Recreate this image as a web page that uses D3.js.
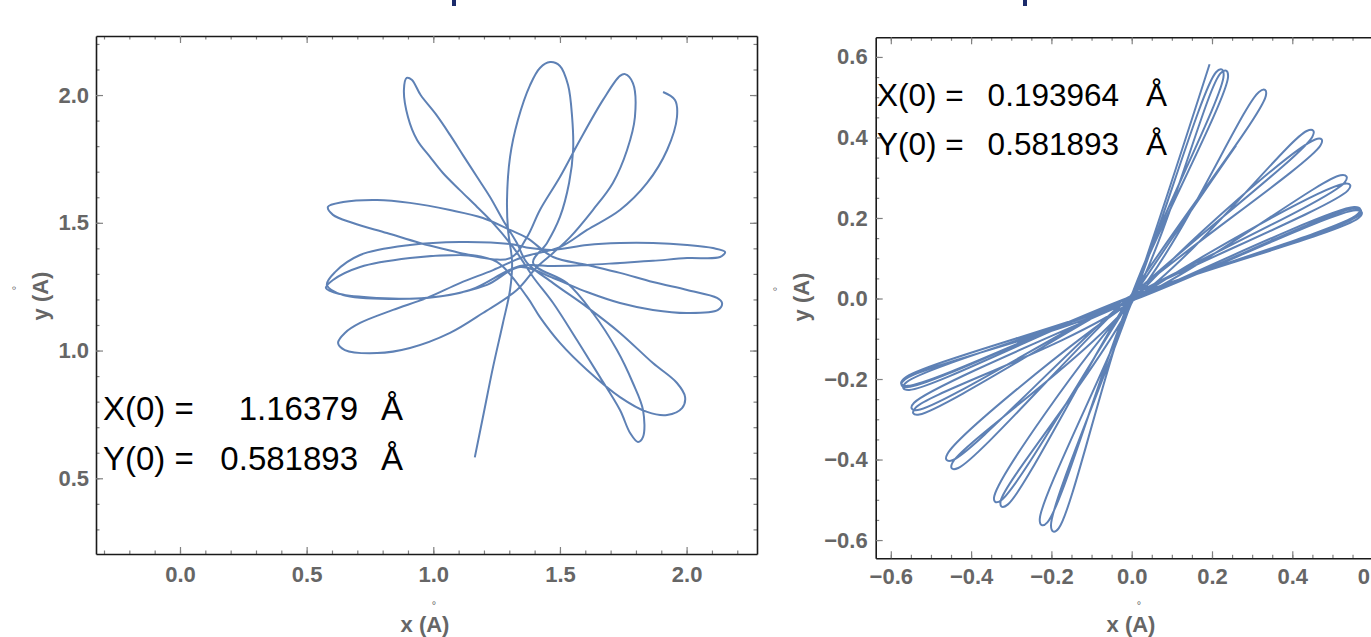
<!DOCTYPE html>
<html>
<head>
<meta charset="utf-8">
<script src="https://cdn.jsdelivr.net/npm/d3@7"></script>
<style>
  body { margin: 0; background: #fff; }
  svg { display: block; font-family: "Liberation Sans", Arial, sans-serif; }
</style>
</head>
<body>
<div id="chart"></div>
<script>
// trajectory, in Å, in travel order
const leftTrajectory = [
  [1.16379,0.581893],[1.196,0.740],[1.236,0.936],[1.275,1.108],[1.303,1.237],
  [1.311,1.347],[1.295,1.472],[1.291,1.589],[1.303,1.758],[1.334,1.902],[1.382,2.039],[1.421,2.106],[1.461,2.129],
  [1.500,2.114],[1.532,2.039],[1.548,1.914],[1.552,1.785],[1.536,1.656],[1.500,1.523],[1.449,1.421],[1.394,1.343],
  [1.528,1.264],[1.630,1.147],[1.725,1.002],[1.788,0.873],[1.828,0.767],[1.828,0.662],[1.808,0.642],
  [1.777,0.677],[1.737,0.767],[1.658,0.896],[1.567,1.041],[1.473,1.186],[1.394,1.288],
  [1.315,1.405],[1.236,1.499],[1.173,1.562],[1.105,1.628],[1.038,1.695],[0.987,1.758],[0.936,1.824],[0.900,1.914],[0.884,2.020],[0.895,2.067],
  [0.915,2.060],[0.950,2.000],[1.010,1.925],[1.066,1.844],[1.117,1.765],[1.173,1.679],[1.224,1.601],[1.275,1.511],[1.330,1.421],[1.370,1.343],
  [1.473,1.264],[1.607,1.170],[1.737,1.069],[1.867,0.951],[1.962,0.873],[1.994,0.818],
  [1.982,0.775],[1.923,0.748],[1.844,0.760],[1.737,0.818],[1.607,0.924],[1.500,1.030],[1.421,1.131],[1.370,1.210],
  [1.251,1.347],[1.105,1.382],[0.947,1.421],[0.817,1.460],[0.683,1.499],[0.604,1.531],[0.584,1.562],
  [0.644,1.581],[0.778,1.589],[0.908,1.578],[1.066,1.550],[1.196,1.519],[1.303,1.472],[1.370,1.441],
  [1.473,1.366],[1.607,1.335],[1.737,1.304],[1.867,1.268],[2.002,1.237],[2.120,1.206],[2.140,1.186],
  [2.124,1.159],[2.002,1.147],[1.867,1.159],[1.737,1.186],[1.607,1.229],[1.473,1.284],[1.342,1.327],
  [1.212,1.257],[1.038,1.214],[0.841,1.202],[0.644,1.217],[0.580,1.257],
  [0.612,1.307],[0.711,1.374],[0.908,1.413],[1.105,1.425],[1.303,1.417],[1.382,1.401],
  [1.473,1.394],[1.607,1.413],[1.737,1.421],[1.867,1.421],[2.002,1.413],[2.104,1.401],[2.152,1.386],
  [2.132,1.366],[2.002,1.362],[1.867,1.351],[1.737,1.343],[1.607,1.335],[1.473,1.331],[1.342,1.331],
  [1.145,1.237],[0.975,1.206],[0.778,1.206],[0.632,1.221],[0.576,1.245],
  [0.604,1.276],[0.711,1.327],[0.908,1.362],[1.105,1.374],[1.303,1.362],
  [1.370,1.444],[1.421,1.550],[1.500,1.679],[1.579,1.824],[1.670,1.981],[1.737,2.075],[1.757,2.082],
  [1.788,2.047],[1.796,1.914],[1.765,1.785],[1.709,1.656],[1.630,1.550],[1.540,1.444],[1.473,1.382],[1.409,1.327],
  [1.330,1.237],[1.196,1.147],[1.066,1.069],[0.908,1.010],[0.778,0.990],[0.651,1.002],[0.624,1.030],
  [0.651,1.069],[0.711,1.108],[0.841,1.159],[0.975,1.206],[1.105,1.264],[1.236,1.315],[1.354,1.366],
  [1.500,1.405],[1.607,1.472],[1.737,1.550],[1.844,1.656],[1.923,1.785],[1.962,1.914],[1.954,1.981],[1.907,2.012]
];

// right plot: each turning loop as (edge in, apex, edge out), crossing near the origin in between
const rightTrajectory = [
  [0.193964,0.581893],[0.003,0.002],
  [-0.201,-0.564],[-0.195,-0.579],[-0.182,-0.571],[-0.002,0.003],
  [0.229,0.554],[0.224,0.569],[0.210,0.562],[0.003,-0.002],
  [-0.229,-0.548],[-0.224,-0.563],[-0.210,-0.556],[-0.003,0.002],
  [0.240,0.551],[0.235,0.566],[0.221,0.559],[0.004,-0.003],
  [-0.326,-0.502],[-0.324,-0.517],[-0.309,-0.512],[-0.004,0.004],
  [0.334,0.503],[0.332,0.518],[0.317,0.513],[0.005,-0.002],
  [-0.446,-0.407],[-0.448,-0.422],[-0.432,-0.421],[-0.004,0.004],
  [0.450,0.402],[0.452,0.417],[0.436,0.416],[0.005,-0.004],
  [-0.538,-0.271],[-0.544,-0.285],[-0.529,-0.288],[-0.005,0.004],
  [0.530,0.288],[0.535,0.303],[0.520,0.306],[0.004,-0.004],
  [-0.565,-0.201],[-0.573,-0.215],[-0.558,-0.220],[-0.004,0.004],
  [0.565,0.200],[0.573,0.214],[0.558,0.219],[0.004,-0.004],
  [-0.561,-0.208],[-0.569,-0.222],[-0.554,-0.227],[-0.004,0.003],
  [0.563,0.205],[0.571,0.219],[0.556,0.224],[0.004,-0.003],
  [-0.566,-0.198],[-0.574,-0.212],[-0.559,-0.217],[-0.004,0.004],
  [0.561,0.208],[0.569,0.222],[0.554,0.227],[0.004,-0.004],
  [-0.542,-0.259],[-0.548,-0.273],[-0.533,-0.277],[-0.004,0.005],
  [0.538,0.268],[0.544,0.282],[0.529,0.285],[0.005,-0.004],
  [-0.459,-0.386],[-0.461,-0.401],[-0.445,-0.401],[-0.005,0.004],
  [0.470,0.380],[0.473,0.395],[0.457,0.395],[0.004,-0.004],
  [-0.342,-0.490],[-0.340,-0.505],[-0.325,-0.501],[0.002,0.003],
  [0.26,0.38]
];

const leftXTicks = [0.0, 0.5, 1.0, 1.5, 2.0];
const leftYTicks = [0.5, 1.0, 1.5, 2.0];
const rightTicks = [-0.6, -0.4, -0.2, 0.0, 0.2, 0.4, 0.6];
const leftStart = ["1.16379", "0.581893"];
const rightStart = ["0.193964", "0.581893"];

const W = 1371, H = 637;
const svg = d3.select("#chart").append("svg")
    .attr("width", W)
    .attr("height", H);

// bits of a title cut off at the top edge
svg.append("rect").attr("x", 452).attr("y", 0).attr("width", 4).attr("height", 6).attr("fill", "#1c2b6b");
svg.append("rect").attr("x", 1023).attr("y", 0).attr("width", 4).attr("height", 6).attr("fill", "#1c2b6b");

function minorTicks(domain, step) {
    let out = [];
    let k0 = Math.ceil(domain[0] / step - 1e-6), k1 = Math.floor(domain[1] / step + 1e-6);
    for (let k = k0; k <= k1; k++) out.push(+(k * step).toFixed(4));
    return out;
}

function drawPanel(p) {
    var x = d3.scaleLinear().domain(p.xDomain).range([p.left, p.right]);
    var y = d3.scaleLinear().domain(p.yDomain).range([p.bottom, p.top]);
    var g = svg.append("g");
    var fmt = d3.format(".1f");

    g.append("clipPath").attr("id", "clip" + p.id)
      .append("rect")
        .attr("x", p.left).attr("y", p.top)
        .attr("width", p.right - p.left).attr("height", p.bottom - p.top);

    var line = d3.line()
        .x(function(d) { return x(d[0]); })
        .y(function(d) { return y(d[1]); })
        .curve(d3.curveCatmullRom.alpha(0.5));

    g.append("path")
        .datum(p.data)
        .attr("clip-path", "url(#clip" + p.id + ")")
        .attr("fill", "none")
        .attr("stroke", "#5e81b5")
        .attr("stroke-width", 2)
        .attr("stroke-linejoin", "round")
        .attr("d", line);

    // minor ticks on all four sides
    var xm = minorTicks(p.xDomain, p.xMinor), ym = minorTicks(p.yDomain, p.yMinor);
    var axes = [
        [d3.axisBottom(x).tickValues(xm), "translate(0," + p.bottom + ")"],
        [d3.axisTop(x).tickValues(xm), "translate(0," + p.top + ")"],
        [d3.axisLeft(y).tickValues(ym), "translate(" + p.left + ",0)"],
        [d3.axisRight(y).tickValues(ym), "translate(" + p.right + ",0)"]
    ];
    axes.forEach(function(a) {
        g.append("g").attr("transform", a[1])
            .call(a[0].tickSize(-3.5).tickSizeOuter(0).tickFormat(""))
            .call(function(s) { s.select(".domain").remove(); });
    });

    // major ticks + labels
    g.append("g").attr("transform", "translate(0," + p.bottom + ")")
        .call(d3.axisBottom(x).tickValues(p.xTicks).tickSize(-7).tickSizeOuter(0).tickPadding(p.xPad).tickFormat(fmt));
    g.append("g").attr("transform", "translate(0," + p.top + ")")
        .call(d3.axisTop(x).tickValues(p.xTicks).tickSize(-7).tickSizeOuter(0).tickFormat(""));
    g.append("g").attr("transform", "translate(" + p.left + ",0)")
        .call(d3.axisLeft(y).tickValues(p.yTicks).tickSize(-7).tickSizeOuter(0).tickPadding(p.yPad).tickFormat(fmt));
    g.append("g").attr("transform", "translate(" + p.right + ",0)")
        .call(d3.axisRight(y).tickValues(p.yTicks).tickSize(-7).tickSizeOuter(0).tickFormat(""));

    g.selectAll(".tick line").attr("stroke", "#808080").attr("stroke-width", 1.2);
    g.selectAll(".domain").attr("stroke", "#1a1a1a").attr("stroke-width", 1.6);
    g.selectAll(".tick text")
        .attr("fill", "#666")
        .style("font-size", "22px")
        .style("font-weight", "bold")
        .style("font-family", "'Liberation Sans', Arial, sans-serif");

    // axis titles, the ring of the Å sits apart as in the original
    var lab = { "fill": "#666", "font-size": "22px", "font-weight": "bold", "text-anchor": "middle" };
    var xl = g.append("text").attr("x", p.xLab[0]).attr("y", p.xLab[1]).text("x (A)");
    var yl = g.append("text").attr("transform", "translate(" + p.yLab[0] + "," + p.yLab[1] + ") rotate(-90)")
        .attr("dy", "0.35em").text("y (A)");
    [xl, yl].forEach(function(t) { for (var k in lab) t.attr(k, lab[k]); });
    g.append("text").attr("x", p.xRing[0]).attr("y", p.xRing[1])
        .attr("text-anchor", "middle").attr("fill", "#666").style("font-size", "11px").text("°");
    g.append("text").attr("transform", "translate(" + p.yRing[0] + "," + p.yRing[1] + ") rotate(-90)")
        .attr("text-anchor", "middle").attr("fill", "#666").style("font-size", "11px").text("°");

    // initial conditions
    var names = ["X(0) =", "Y(0) ="];
    var fs = p.note.size + "px";
    names.forEach(function(nm, i) {
        var by = p.note.y[i];
        g.append("text").attr("x", p.note.x0).attr("y", by).style("font-size", fs).attr("fill", "#000").text(nm);
        g.append("text").attr("x", p.note.x1).attr("y", by).attr("text-anchor", "end")
            .style("font-size", fs).attr("fill", "#000").text(p.start[i]);
        g.append("text").attr("x", p.note.x2).attr("y", by).style("font-size", fs).attr("fill", "#000").text("Å");
    });
}

drawPanel({
    id: "L", data: leftTrajectory,
    left: 96, right: 757, top: 36, bottom: 554,
    xDomain: [-0.3316, 2.2779], yDomain: [0.2037, 2.2311],
    xTicks: leftXTicks, yTicks: leftYTicks, xMinor: 0.1, yMinor: 0.1,
    xPad: 12, yPad: 7,
    xLab: [425, 632], xRing: [434, 609],
    yLab: [40, 296], yRing: [20, 288],
    note: { x0: 103, x1: 358, x2: 381, y: [420, 470], size: 33 },
    start: leftStart
});

drawPanel({
    id: "R", data: rightTrajectory,
    left: 875.7, right: 1387.7, top: 37.3, bottom: 558.3,
    xDomain: [-0.6376, 0.6376], yDomain: [-0.6453, 0.6488],
    xTicks: rightTicks, yTicks: rightTicks, xMinor: 0.05, yMinor: 0.05,
    xPad: 10, yPad: 8,
    xLab: [1131, 632], xRing: [1139, 609],
    yLab: [801, 297], yRing: [781, 289],
    note: { x0: 877, x1: 1119, x2: 1146, y: [106, 155], size: 31.5 },
    start: rightStart
});
</script>
</body>
</html>
